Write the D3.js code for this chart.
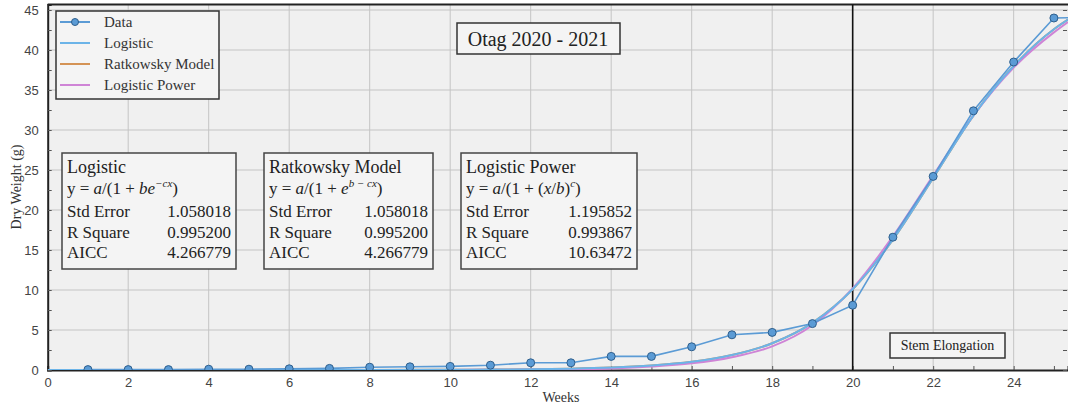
<!DOCTYPE html>
<html>
<head>
<meta charset="utf-8">
<script src="https://cdn.jsdelivr.net/npm/d3@7"></script>
<style>
  body { margin: 0; background: #fff; }
  svg { display: block; }
</style>
</head>
<body>
<div id="chart"></div>
<script>
// measured data (weeks / dry weight in g)
const weeks = [1, 2, 3, 4, 5, 6, 7, 8, 9, 10, 11, 12, 13, 14, 15, 16, 17, 18, 19, 20, 21, 22, 23, 24, 25, 26];
const dryWeight = [0.05, 0.05, 0.05, 0.1, 0.1, 0.15, 0.2, 0.35, 0.4, 0.45, 0.6, 0.9, 0.9, 1.7, 1.7, 2.9, 4.4, 4.7, 5.8, 8.1, 16.6, 24.2, 32.4, 38.5, 44.0, 44.1];

// fitted curves
const curveWeeks = [0, 2, 4, 6, 8, 10, 11, 12, 13, 14, 15, 16, 17, 18, 19, 20, 21, 22, 23, 24, 25, 25.35];
const logisticFit = [0, 0, 0, 0.002, 0.007, 0.025, 0.05, 0.09, 0.16, 0.3, 0.56, 1.02, 1.87, 3.35, 5.9, 10.1, 16.3, 24.0, 31.8, 38.0, 42.6, 43.8];
const ratkowskyFit = [0, 0, 0, 0.002, 0.007, 0.025, 0.05, 0.09, 0.16, 0.3, 0.56, 1.02, 1.87, 3.35, 5.9, 10.1, 16.3, 24.0, 31.8, 38.0, 42.6, 43.8];
const powerFit = [0, 0, 0, 0, 0.002, 0.01, 0.03, 0.05, 0.1, 0.2, 0.43, 0.83, 1.6, 2.95, 5.6, 10.2, 16.7, 24.3, 31.8, 37.8, 42.2, 43.5];

const xTicks = [0, 2, 4, 6, 8, 10, 12, 14, 16, 18, 20, 22, 24];
const yTicks = [0, 5, 10, 15, 20, 25, 30, 35, 40, 45];

const legendNames = ['Data', 'Logistic', 'Ratkowsky Model', 'Logistic Power'];
const legendColors = ['#5b9bd5', '#6cb4e8', '#d49355', '#cf84d6'];

const boxTitles = ['Logistic', 'Ratkowsky Model', 'Logistic Power'];
const stdError = ['1.058018', '1.058018', '1.195852'];
const rSquare = ['0.995200', '0.995200', '0.993867'];
const aicc = ['4.266779', '4.266779', '10.63472'];

const width = 1068, height = 410;
const plot = { left: 47.7, right: 1068, top: 4.4, bottom: 370 };

let svg = d3.select('#chart').append('svg')
    .attr('width', width)
    .attr('height', height);

let x = d3.scaleLinear([0, 25.35], [plot.left, plot.right]);
let y = d3.scaleLinear([0, 45.7], [plot.bottom, plot.top]);

svg.append('clipPath').attr('id', 'clip')
    .append('rect')
    .attr('x', plot.left).attr('y', plot.top)
    .attr('width', plot.right - plot.left).attr('height', plot.bottom - plot.top);

// background
svg.append('rect')
    .attr('x', plot.left).attr('y', plot.top)
    .attr('width', plot.right - plot.left).attr('height', plot.bottom - plot.top)
    .attr('fill', '#f0f0f0');

// grid
svg.append('g')
    .selectAll('line')
    .data(xTicks.slice(1))
    .join('line')
    .attr('x1', d => x(d)).attr('x2', d => x(d))
    .attr('y1', plot.top).attr('y2', plot.bottom)
    .attr('stroke', '#c4c4c4').attr('stroke-width', 1);

svg.append('g')
    .selectAll('line')
    .data(yTicks.slice(1))
    .join('line')
    .attr('x1', plot.left).attr('x2', plot.right)
    .attr('y1', d => y(d)).attr('y2', d => y(d))
    .attr('stroke', '#c4c4c4').attr('stroke-width', 1);

// axes, ticks inward
let xAxis = svg.append('g')
    .attr('transform', `translate(0,${plot.bottom})`)
    .call(d3.axisBottom(x).tickValues(d3.range(0, 26, 1)).tickSize(-4).tickPadding(8)
        .tickFormat(d => d % 2 === 0 ? d : ''));
xAxis.select('.domain').attr('stroke', '#222').attr('stroke-width', 2);
xAxis.selectAll('.tick line').attr('stroke', '#555');
xAxis.selectAll('.tick text')
    .attr('font-family', 'Liberation Sans, Arial, sans-serif')
    .attr('font-size', 13).attr('fill', '#444');

let yAxis = svg.append('g')
    .attr('transform', `translate(${plot.left},0)`)
    .call(d3.axisLeft(y).tickValues(d3.range(0, 46, 2.5)).tickSize(-4).tickPadding(9)
        .tickFormat(d => d % 5 === 0 ? d : ''));
yAxis.select('.domain').attr('stroke', '#222').attr('stroke-width', 2);
yAxis.selectAll('.tick line').attr('stroke', '#555');
yAxis.selectAll('.tick text')
    .attr('font-family', 'Liberation Sans, Arial, sans-serif')
    .attr('font-size', 13).attr('fill', '#444');

// right side ticks
svg.append('g')
    .attr('transform', `translate(${plot.right - 1},0)`)
    .call(d3.axisRight(y).tickValues(d3.range(0, 46, 2.5)).tickSize(-4).tickFormat(''))
    .call(g => g.select('.domain').remove())
    .selectAll('.tick line').attr('stroke', '#555');

// top frame
svg.append('line')
    .attr('x1', plot.left).attr('x2', plot.right)
    .attr('y1', plot.top).attr('y2', plot.top)
    .attr('stroke', '#222').attr('stroke-width', 2);

// stage line at week 20
svg.append('line')
    .attr('x1', x(20)).attr('x2', x(20))
    .attr('y1', plot.top).attr('y2', plot.bottom)
    .attr('stroke', '#111').attr('stroke-width', 1.6);

let lines = svg.append('g').attr('clip-path', 'url(#clip)');

let curveLine = vals => d3.line()
    .x((d, i) => x(curveWeeks[i]))
    .y(d => y(d))
    .curve(d3.curveMonotoneX)(vals);

lines.append('path').attr('d', curveLine(ratkowskyFit))
    .attr('fill', 'none').attr('stroke', legendColors[2]).attr('stroke-width', 2);
lines.append('path').attr('d', curveLine(powerFit))
    .attr('fill', 'none').attr('stroke', legendColors[3]).attr('stroke-width', 2);
lines.append('path').attr('d', curveLine(logisticFit))
    .attr('fill', 'none').attr('stroke', legendColors[1]).attr('stroke-width', 2);

let dataLine = d3.line()
    .x((d, i) => x(weeks[i]))
    .y(d => y(d));

lines.append('path').attr('d', dataLine(dryWeight))
    .attr('fill', 'none').attr('stroke', legendColors[0]).attr('stroke-width', 1.6);

lines.append('g')
    .selectAll('circle')
    .data(dryWeight)
    .join('circle')
    .attr('cx', (d, i) => x(weeks[i]))
    .attr('cy', d => y(d))
    .attr('r', 4)
    .attr('fill', '#5b9bd5')
    .attr('stroke', '#2f5f8c')
    .attr('stroke-width', 1);

// axis titles
svg.append('text')
    .attr('x', 561).attr('y', 402)
    .attr('text-anchor', 'middle')
    .attr('font-family', 'Liberation Serif, serif')
    .attr('font-size', 14).attr('fill', '#333')
    .text('Weeks');

svg.append('text')
    .attr('transform', 'translate(21,187) rotate(-90)')
    .attr('text-anchor', 'middle')
    .attr('font-family', 'Liberation Serif, serif')
    .attr('font-size', 14).attr('fill', '#333')
    .text('Dry Weight (g)');

// legend
let legend = svg.append('g').attr('font-family', 'Liberation Serif, serif').attr('font-size', 15);
legend.append('rect')
    .attr('x', 56).attr('y', 11).attr('width', 163).attr('height', 88)
    .attr('fill', '#f4f4f4').attr('stroke', '#333').attr('stroke-width', 1.5);

let items = legend.selectAll('g.item')
    .data(legendNames)
    .join('g')
    .attr('transform', (d, i) => `translate(0,${22 + i * 21})`);
items.append('line')
    .attr('x1', 60).attr('x2', 90).attr('y1', 0).attr('y2', 0)
    .attr('stroke', (d, i) => legendColors[i]).attr('stroke-width', 2);
items.filter((d, i) => i === 0).append('circle')
    .attr('cx', 75).attr('cy', 0).attr('r', 3.5)
    .attr('fill', '#5b9bd5').attr('stroke', '#2f5f8c');
items.append('text')
    .attr('x', 104).attr('y', 5)
    .attr('fill', '#333')
    .text(d => d);

// title box
svg.append('rect')
    .attr('x', 457).attr('y', 23).attr('width', 163).attr('height', 31)
    .attr('fill', '#f4f4f4').attr('stroke', '#333').attr('stroke-width', 1.5);
svg.append('text')
    .attr('x', 538).attr('y', 46)
    .attr('text-anchor', 'middle')
    .attr('font-family', 'Liberation Serif, serif')
    .attr('font-size', 20).attr('fill', '#222')
    .text('Otag 2020 - 2021');

// model boxes
const boxX = [62, 264, 461];
const boxW = [174, 169, 176];

boxTitles.forEach((title, k) => {
    let g = svg.append('g')
        .attr('transform', `translate(${boxX[k]},153)`)
        .attr('font-family', 'Liberation Serif, serif')
        .attr('font-size', 17)
        .attr('fill', '#222');
    g.append('rect')
        .attr('width', boxW[k]).attr('height', 116)
        .attr('fill', '#f4f4f4').attr('stroke', '#444').attr('stroke-width', 1.5);

    g.append('text').attr('x', 5).attr('y', 20).attr('font-size', 18).text(title);

    let eq = g.append('text').attr('x', 5).attr('y', 41);
    eq.append('tspan').text('y = ');
    eq.append('tspan').attr('font-style', 'italic').text('a');
    if (k === 0) {
        eq.append('tspan').text('/(1 + ');
        eq.append('tspan').attr('font-style', 'italic').text('be');
        eq.append('tspan').attr('font-style', 'italic').attr('font-size', 11).attr('dy', -7).text('−cx');
        eq.append('tspan').attr('dy', 7).text(')');
    } else if (k === 1) {
        eq.append('tspan').text('/(1 + ');
        eq.append('tspan').attr('font-style', 'italic').text('e');
        eq.append('tspan').attr('font-style', 'italic').attr('font-size', 11).attr('dy', -7).text('b − cx');
        eq.append('tspan').attr('dy', 7).text(')');
    } else {
        eq.append('tspan').text('/(1 + (');
        eq.append('tspan').attr('font-style', 'italic').text('x');
        eq.append('tspan').text('/');
        eq.append('tspan').attr('font-style', 'italic').text('b');
        eq.append('tspan').text(')');
        eq.append('tspan').attr('font-style', 'italic').attr('font-size', 11).attr('dy', -7).text('c');
        eq.append('tspan').attr('dy', 7).text(')');
    }

    const rows = [['Std Error', stdError[k]], ['R Square', rSquare[k]], ['AICC', aicc[k]]];
    rows.forEach((r, j) => {
        g.append('text').attr('x', 5).attr('y', 64 + j * 20.5).text(r[0]);
        g.append('text').attr('x', boxW[k] - 5).attr('y', 64 + j * 20.5)
            .attr('text-anchor', 'end').text(r[1]);
    });
});

// stage annotation
svg.append('rect')
    .attr('x', 890).attr('y', 333).attr('width', 115).attr('height', 25)
    .attr('fill', '#f4f4f4').attr('stroke', '#333').attr('stroke-width', 1.5);
svg.append('text')
    .attr('x', 947.5).attr('y', 350)
    .attr('text-anchor', 'middle')
    .attr('font-family', 'Liberation Serif, serif')
    .attr('font-size', 14).attr('fill', '#222')
    .text('Stem Elongation');
</script>
</body>
</html>
